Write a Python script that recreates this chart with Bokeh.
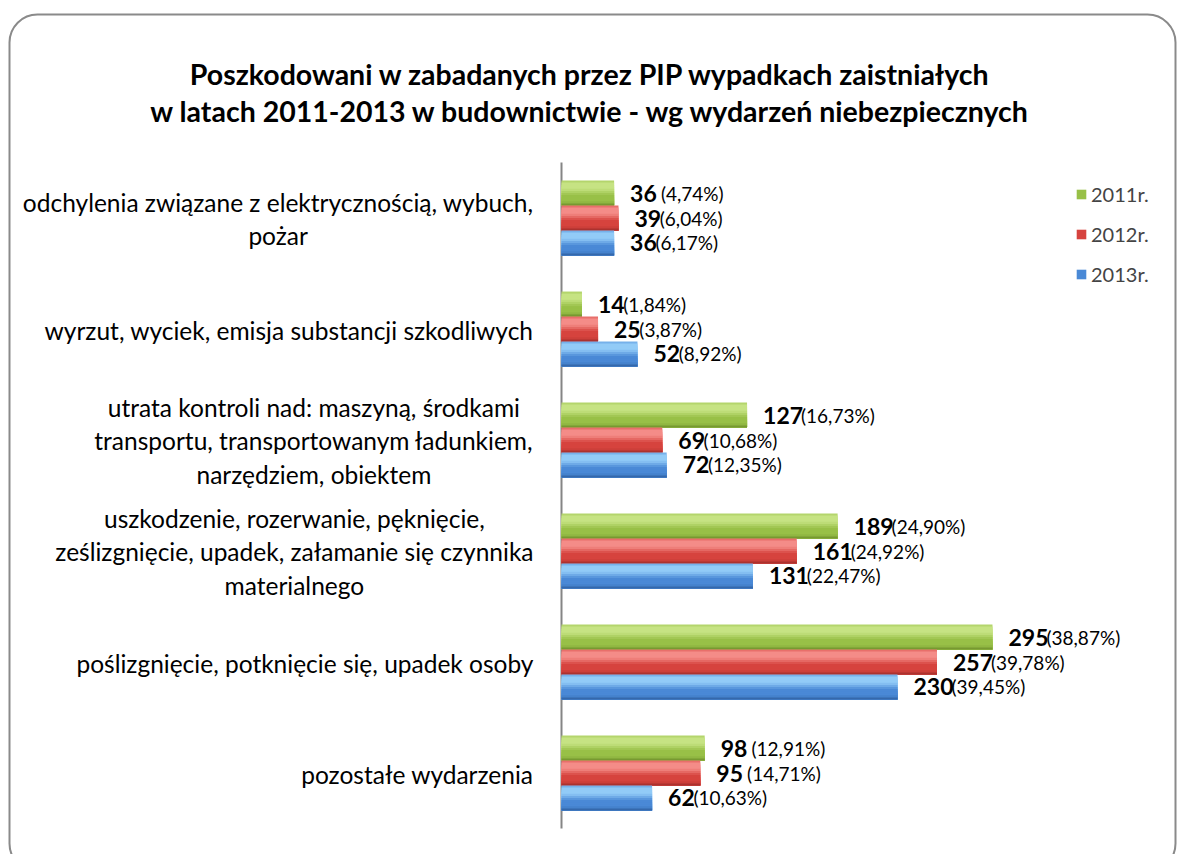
from bokeh.plotting import figure
from bokeh.models import Range1d, Legend, LegendItem, ColumnDataSource
from bokeh.core.properties import value
from bokeh.embed import file_html
from bokeh.resources import INLINE

# ---------------- data ----------------
categories = [
    "odchylenia związane z elektrycznością, wybuch,\npożar",
    "wyrzut, wyciek, emisja substancji szkodliwych",
    "utrata kontroli nad: maszyną, środkami\ntransportu, transportowanym ładunkiem,\nnarzędziem, obiektem",
    "uszkodzenie, rozerwanie, pęknięcie,\nześlizgnięcie, upadek, załamanie się czynnika\nmaterialnego",
    "poślizgnięcie, potknięcie się, upadek osoby",
    "pozostałe wydarzenia",
]
years = ["2011r.", "2012r.", "2013r."]
v2011 = [36, 14, 127, 189, 295, 98]
v2012 = [39, 25, 69, 161, 257, 95]
v2013 = [36, 52, 72, 131, 230, 62]
p2011 = [" (4,74%)", "(1,84%)", "(16,73%)", "(24,90%)", "(38,87%)", " (12,91%)"]
p2012 = ["(6,04%)", "(3,87%)", "(10,68%)", "(24,92%)", "(39,78%)", " (14,71%)"]
p2013 = ["(6,17%)", "(8,92%)", "(12,35%)", "(22,47%)", "(39,45%)", "(10,63%)"]
title_lines = [
    "Poszkodowani w zabadanych przez PIP wypadkach zaistniałych",
    "w latach 2011-2013 w budownictwie - wg wydarzeń niebezpiecznych",
]

# ---------------- geometry / style ----------------
FONT = "Lato"
W, H = 1182, 854
PX_X = 1.461          # pixels per value unit
AX_X = 561            # canvas x of value 0
CAT_PX = 111          # pixels per category
CAT0_Y = 217.5        # canvas y of first category centre
n = len(categories)
ypos = [n - 1 - i for i in range(n)]
y_top = (n - 1) + CAT0_Y / CAT_PX
y_bot = y_top - H / CAT_PX


def dx(px):
    return (px - AX_X) / PX_X


def dy(py):
    return y_top - py / CAT_PX


p = figure(
    width=W, height=H,
    x_range=Range1d(dx(0), dx(W)), y_range=Range1d(y_bot, y_top),
    x_axis_location=None, y_axis_location=None,
    output_backend="svg", toolbar_location=None,
    min_border=0,
)
p.min_border_left = p.min_border_right = p.min_border_top = p.min_border_bottom = 0
p.outline_line_color = None
p.xgrid.visible = False
p.ygrid.visible = False
p.background_fill_color = "white"
p.border_fill_color = "white"

# rounded outer frame
p.quad(left=[dx(9)], right=[dx(1175)], top=[dy(14)], bottom=[dy(871)],
       border_radius=28, fill_color=None, line_color="#8a8a8a", line_width=2)

# title
p.text(x=[dx(590), dx(590)], y=[dy(73), dy(110)], text=title_lines,
       text_align="center", text_baseline="middle", text_font=value(FONT),
       text_font_style="bold", text_font_size="28.5px", text_color="#000000")

# category axis line
p.segment(x0=[0], y0=[-0.5], x1=[0], y1=[n - 0.5], line_color="#858585", line_width=2)

# category labels
p.text(x=[0] * n, y=ypos, text=categories, x_offset=-28, y_offset=1,
       text_align="center", anchor="center_right", text_baseline="middle",
       text_font=value(FONT), text_font_size="24.5px", text_color="#000000",
       text_line_height=1.17)


def hex2rgb(c):
    c = c.lstrip("#")
    return tuple(int(c[i:i + 2], 16) for i in (0, 2, 4))


def mix(c1, c2, t):
    a, b = hex2rgb(c1), hex2rgb(c2)
    return "#%02x%02x%02x" % tuple(round(a[i] + (b[i] - a[i]) * t) for i in range(3))


def grad(light, mid, dark, t):
    stops = [(0.0, mix(mid, light, 0.4)), (0.12, light), (0.32, light), (0.6, mid),
             (0.85, mid), (1.0, dark)]
    for (t0, c0), (t1, c1) in zip(stops, stops[1:]):
        if t0 <= t <= t1:
            return mix(c0, c1, (t - t0) / (t1 - t0))
    return dark


h = 0.225
NS = 12
series = [
    (v2011, p2011, +h, ("#c6e383", "#98c047", "#6a8a28")),
    (v2012, p2012, 0.0, ("#f48c88", "#d6433e", "#9a2c29")),
    (v2013, p2013, -h, ("#92cbf7", "#4a89d6", "#2d5c9b")),
]

DIG_W = 0.55 * 23
SPACE_W = 5.5
legend_renderers = []
for vals, pcts, off, (light, mid, dark) in series:
    pct_clean = [s.strip() for s in pcts]
    pct_off = [16 + len(str(v)) * DIG_W + (SPACE_W if s.startswith(" ") else 0)
               for v, s in zip(vals, pcts)]
    yb = [y + off for y in ypos]
    src = ColumnDataSource(dict(y=yb, val=vals, num=[str(v) for v in vals],
                                pct=pct_clean, pct_off=pct_off))
    mid_r = None
    # layered strips: each layer runs from its own top edge to the bar bottom
    for j in range(NS):
        t = (j + 0.5) / NS
        top_rel = h / 2 - j * h / NS
        bot_rel = -h / 2
        r = p.hbar(y=[y + (top_rel + bot_rel) / 2 for y in yb], left=0, right=vals,
                   height=top_rel - bot_rel, fill_color=grad(light, mid, dark, t),
                   line_color=None)
        if j == 7:
            mid_r = r
    legend_renderers.append(mid_r)
    p.text(x="val", y="y", text="num", source=src,
           x_offset=16, text_baseline="middle", text_align="left",
           text_font=value(FONT), text_font_style="bold", text_font_size="23px",
           text_color="#000000")
    p.text(x="val", y="y", text="pct", source=src,
           x_offset="pct_off", text_baseline="middle", text_align="left",
           text_font=value(FONT), text_font_size="19px", text_color="#000000")

legend = Legend(
    items=[LegendItem(label=y, renderers=[r]) for y, r in zip(years, legend_renderers)],
    location=(1075, H - 286), glyph_width=12, glyph_height=12, label_height=20, spacing=16,
    label_text_font=FONT, label_text_font_size="20px", label_standoff=4,
    padding=0, margin=0, border_line_color=None, background_fill_alpha=0,
)
p.add_layout(legend)

open("out.html", "w").write(file_html(p, INLINE))
